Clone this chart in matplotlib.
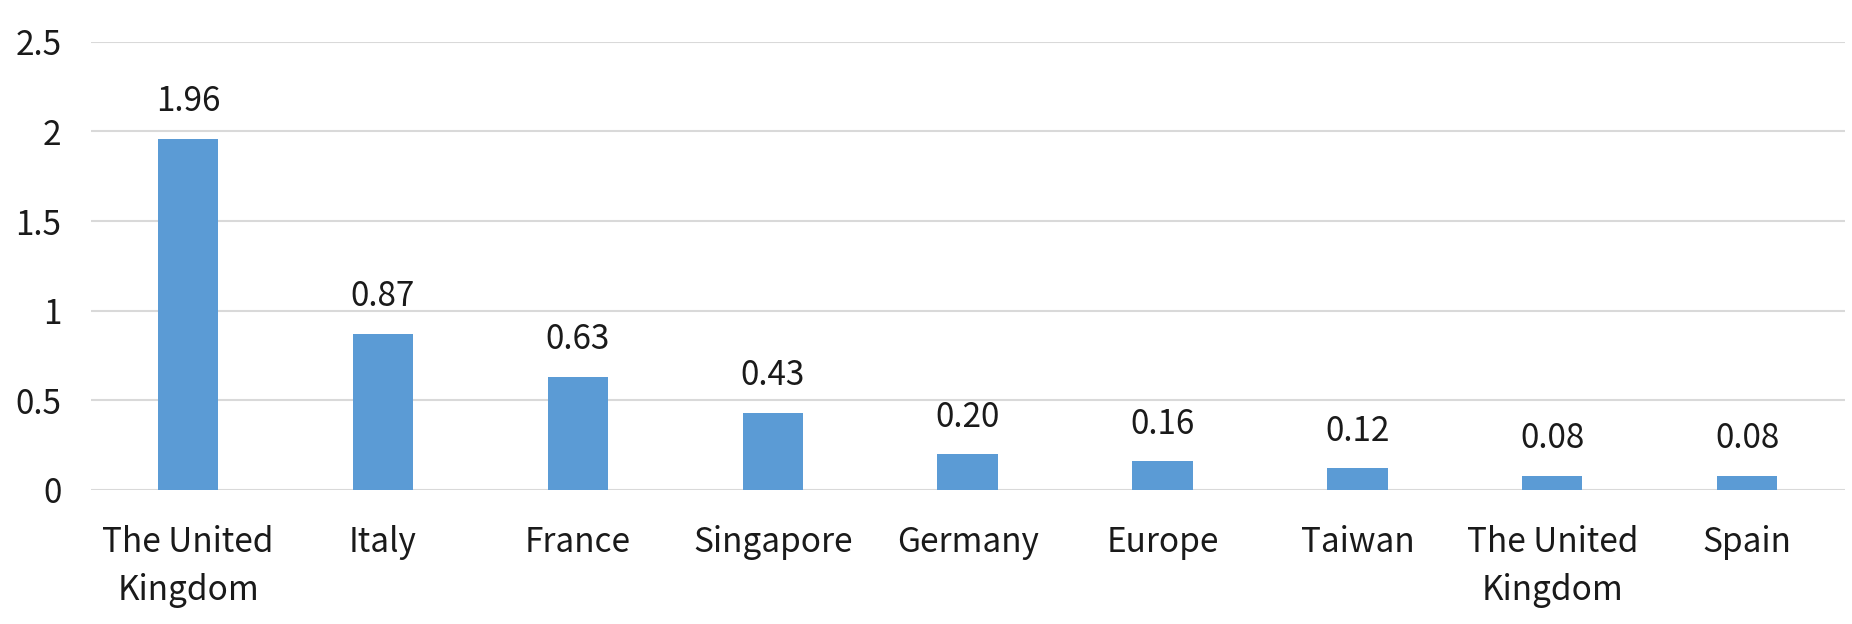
import numpy as np
import matplotlib
matplotlib.use("Agg")
import matplotlib.pyplot as plt

plt.rcParams['font.family'] = ['Noto Sans CJK SC', 'DejaVu Sans']

# data
categories = ["The United\nKingdom", "Italy", "France", "Singapore", "Germany",
              "Europe", "Taiwan", "The United\nKingdom", "Spain"]
values = [1.96, 0.87, 0.63, 0.43, 0.20, 0.16, 0.12, 0.08, 0.08]
value_labels = ["1.96", "0.87", "0.63", "0.43", "0.20", "0.16", "0.12", "0.08", "0.08"]
yticks = [0, 0.5, 1, 1.5, 2, 2.5]
ytick_labels = ["0", "0.5", "1", "1.5", "2", "2.5"]

text_color = "#1a1a1a"
bar_color = "#5b9bd5"
grid_color = "#d9d9d9"
fs = 24

fig = plt.figure(figsize=(18.52, 6.24), dpi=100, facecolor="white")
ax = fig.add_axes([0.049, 0.215, 0.947, 0.718])

x = np.arange(len(categories))
bars = ax.bar(x, values, width=0.31, color=bar_color, zorder=3)

# value labels above each bar
for b, lab in zip(bars, value_labels):
    ax.annotate(lab, (b.get_x() + b.get_width() / 2, b.get_height()),
                xytext=(0, 14), textcoords="offset points",
                ha="center", va="bottom", fontsize=fs, color=text_color)

ax.set_xlim(-0.5, len(categories) - 0.5)
ax.set_ylim(0, 2.5)
ax.set_yticks(yticks)
ax.set_yticklabels(ytick_labels)
ax.set_xticks(x)
ax.set_xticklabels(categories, linespacing=1.5)

ax.yaxis.grid(True, color=grid_color, linewidth=1.5, zorder=0)
ax.set_axisbelow(True)
for s in ax.spines.values():
    s.set_visible(False)

ax.tick_params(axis="y", length=0, pad=21, labelsize=fs, labelcolor=text_color)
ax.tick_params(axis="x", length=0, pad=25, labelsize=fs, labelcolor=text_color)

fig.savefig("out.png", dpi=100, facecolor="white")
